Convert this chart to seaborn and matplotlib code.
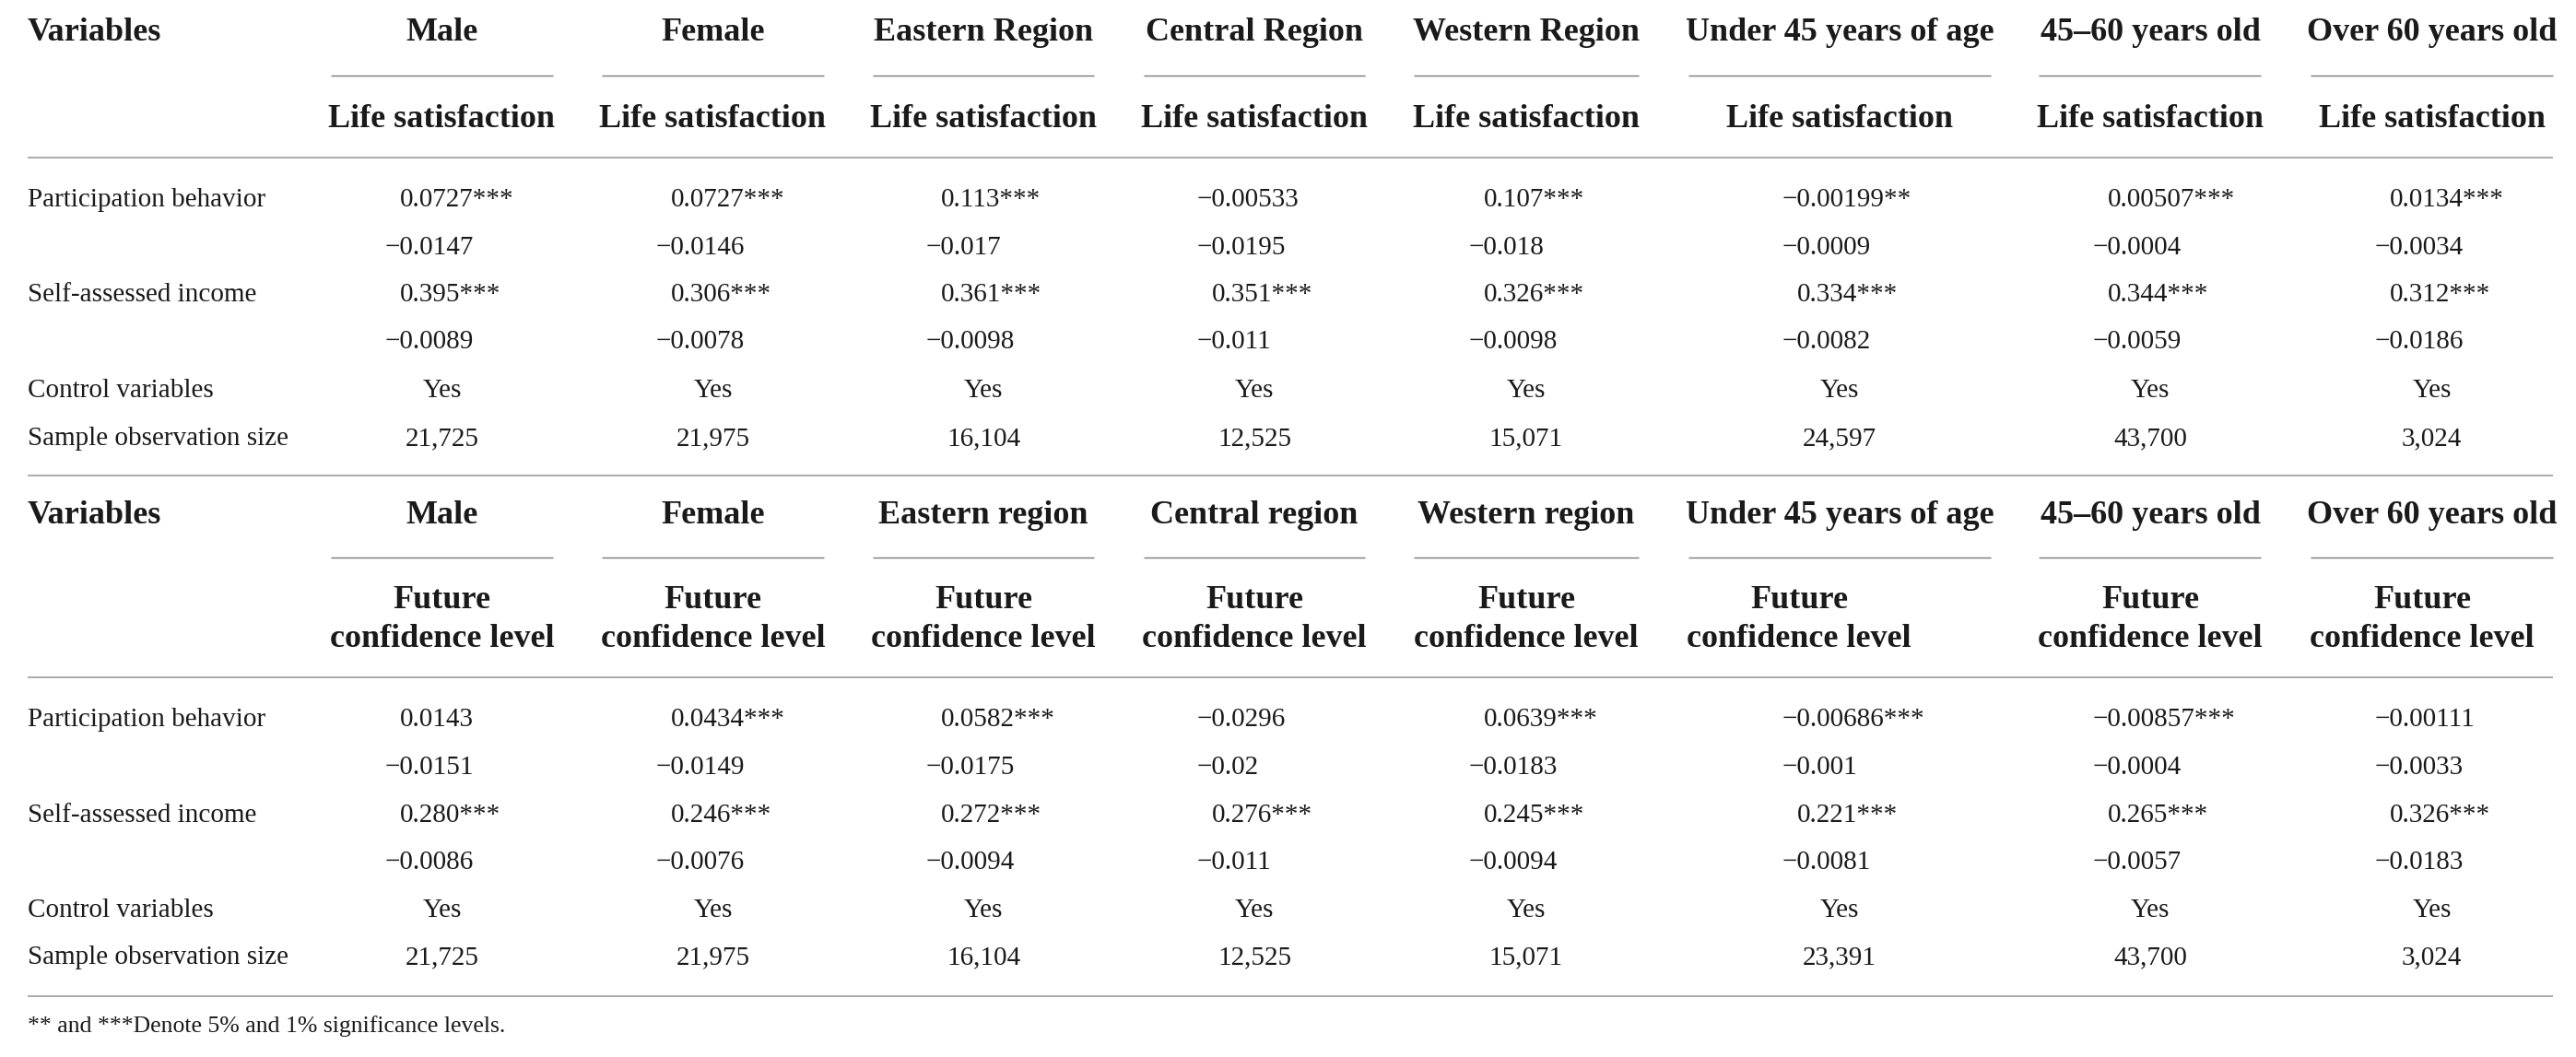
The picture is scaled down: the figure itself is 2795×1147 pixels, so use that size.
import matplotlib
matplotlib.use("Agg")
import matplotlib.pyplot as plt
import seaborn as sns

# ---------------- data ----------------
groups_p1 = ["Male", "Female", "Eastern Region", "Central Region", "Western Region",
             "Under 45 years of age", "45–60 years old", "Over 60 years old"]
groups_p2 = ["Male", "Female", "Eastern region", "Central region", "Western region",
             "Under 45 years of age", "45–60 years old", "Over 60 years old"]
dep_p1 = ["Life satisfaction"]
dep_p2 = ["Future", "confidence level"]
row_labels = ["Participation behavior", "", "Self-assessed income", "",
              "Control variables", "Sample observation size"]

part_coef_p1 = ["0.0727***", "0.0727***", "0.113***", "−0.00533", "0.107***",
                "−0.00199**", "0.00507***", "0.0134***"]
part_se_p1 = ["−0.0147", "−0.0146", "−0.017", "−0.0195", "−0.018",
              "−0.0009", "−0.0004", "−0.0034"]
inc_coef_p1 = ["0.395***", "0.306***", "0.361***", "0.351***", "0.326***",
               "0.334***", "0.344***", "0.312***"]
inc_se_p1 = ["−0.0089", "−0.0078", "−0.0098", "−0.011", "−0.0098",
             "−0.0082", "−0.0059", "−0.0186"]
control_p1 = ["Yes"] * 8
n_p1 = ["21,725", "21,975", "16,104", "12,525", "15,071", "24,597", "43,700", "3,024"]

part_coef_p2 = ["0.0143", "0.0434***", "0.0582***", "−0.0296", "0.0639***",
                "−0.00686***", "−0.00857***", "−0.00111"]
part_se_p2 = ["−0.0151", "−0.0149", "−0.0175", "−0.02", "−0.0183",
              "−0.001", "−0.0004", "−0.0033"]
inc_coef_p2 = ["0.280***", "0.246***", "0.272***", "0.276***", "0.245***",
               "0.221***", "0.265***", "0.326***"]
inc_se_p2 = ["−0.0086", "−0.0076", "−0.0094", "−0.011", "−0.0094",
             "−0.0081", "−0.0057", "−0.0183"]
control_p2 = ["Yes"] * 8
n_p2 = ["21,725", "21,975", "16,104", "12,525", "15,071", "23,391", "43,700", "3,024"]

footnote = "** and ***Denote 5% and 1% significance levels."

# ---------------- layout (pixels) ----------------
W, H = 2795, 1147
col_centers = [479.5, 773.5, 1067, 1361, 1656, 1996, 2333, 2638.5]
underlines = [(359, 600), (653, 894), (947, 1187), (1241, 1481), (1534, 1778),
              (1832, 2160), (2212, 2453), (2507, 2770)]
sub2_centers = [479.5, 773.5, 1067, 1361, 1656, 1952, 2333, 2628]
digit_offset = -46
left_x, right_x = 30, 2770

sns.set_theme(style="white")
plt.rcParams["font.family"] = ["Liberation Serif", "DejaVu Serif"]

TXT = "#1a1a1a"
head_kw = dict(fontsize=26, fontweight="bold", color=TXT, va="baseline")
body_kw = dict(fontsize=21, color=TXT, va="baseline")

fig = plt.figure(figsize=(W / 100, H / 100), dpi=100)
fig.patch.set_facecolor("white")
ax = fig.add_axes([0, 0, 1, 1])
ax.set_xlim(0, W)
ax.set_ylim(H, 0)
ax.axis("off")

r = fig.canvas.get_renderer()
t1 = ax.text(0, 0, "−0", **body_kw)
t2 = ax.text(0, 0, "0", **body_kw)
minus_w = t1.get_window_extent(r).width - t2.get_window_extent(r).width
t1.remove(); t2.remove()


def numeric(x, y, s):
    xx = x + digit_offset
    if s.startswith("−"):
        xx -= minus_w
    ax.text(xx, y, s, ha="left", **body_kw)


def panel(groups, dep, sub_centers, cols, y_head, y_uline, y_sub, y_rule_a, rows_y, y_rule_b):
    ax.text(left_x, y_head, "Variables", ha="left", **head_kw)
    for g, c, (a, b) in zip(groups, col_centers, underlines):
        ax.text(c, y_head, g, ha="center", **head_kw)
        ax.plot([a, b], [y_uline, y_uline], color="#7a7a7a", lw=1.0, solid_capstyle="butt")
    for line, ys in zip(dep, y_sub):
        for c in sub_centers:
            ax.text(c, ys, line, ha="center", **head_kw)
    for yr in (y_rule_a, y_rule_b):
        ax.plot([left_x, right_x], [yr, yr], color="#aaaaaa", lw=1.4, solid_capstyle="butt")
    for lab, y in zip(row_labels, rows_y):
        if lab:
            ax.text(left_x, y, lab, ha="left", **body_kw)
    for k, series in enumerate(cols):
        y = rows_y[k]
        for c, s in zip(col_centers, series):
            if k < 4:
                numeric(c, y, s)
            else:
                ax.text(c, y, s, ha="center", **body_kw)


panel(groups_p1, dep_p1, col_centers,
      [part_coef_p1, part_se_p1, inc_coef_p1, inc_se_p1, control_p1, n_p1],
      43.5, 81.5, [138.5], 171, [224, 276, 327, 378.5, 431, 483], 515.5)
panel(groups_p2, dep_p2, sub2_centers,
      [part_coef_p2, part_se_p2, inc_coef_p2, inc_se_p2, control_p2, n_p2],
      567.5, 604.5, [660.5, 702], 735, [788, 840, 891.5, 943, 995, 1046.5], 1080.5)

ax.text(left_x, 1120, footnote, ha="left", fontsize=18.5, color=TXT, va="baseline")

fig.savefig("out.png", dpi=100, facecolor="white")
